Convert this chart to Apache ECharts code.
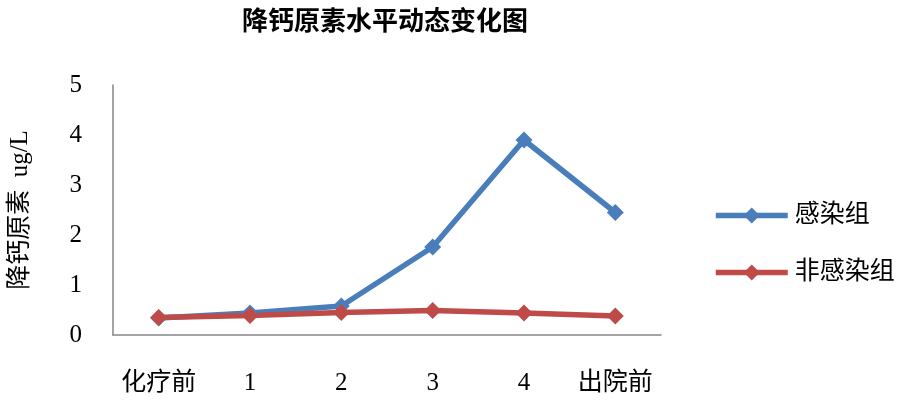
<!DOCTYPE html>
<html>
<head>
<meta charset="utf-8">
<script src="https://cdn.jsdelivr.net/npm/echarts@6/dist/echarts.min.js"></script>
<style>
  html, body { margin: 0; padding: 0; background: #fff; }
  #main { width: 906px; height: 404px; }
</style>
</head>
<body>
<div id="main"></div>
<script>
// 降钙原素水平动态变化
var categories = ['化疗前', '1', '2', '3', '4', '出院前'];
var infected = [0.34, 0.44, 0.58, 1.76, 3.9, 2.45];
var nonInfected = [0.35, 0.39, 0.45, 0.49, 0.44, 0.38];
var yTicks = [0, 1, 2, 3, 4, 5];

var textFont = '"Liberation Serif", "Noto Sans CJK SC", serif';
var chart = echarts.init(document.getElementById('main'));

var option = {
  animation: false,
  backgroundColor: '#fff',
  title: {
    text: '降钙原素水平动态变化图',
    left: 380,
    top: 2,
    textAlign: 'center',
    textStyle: {
      fontFamily: '"Noto Sans CJK SC", sans-serif',
      fontWeight: 'bold',
      fontSize: 26,
      color: '#000'
    }
  },
  legend: {
    orient: 'vertical',
    left: 708,
    top: 198,
    itemWidth: 72,
    itemHeight: 20,
    itemGap: 32,
    lineStyle: { width: 5.5 },
    textStyle: { fontFamily: textFont, fontSize: 25, color: '#000', padding: [0, 0, 0, 2] },
    data: ['感染组', '非感染组']
  },
  grid: { left: 113, right: 245, top: 85, bottom: 69 },
  xAxis: {
    type: 'category',
    data: categories,
    boundaryGap: true,
    axisLine: { lineStyle: { color: '#868686', width: 1.5 } },
    axisTick: { show: false },
    axisLabel: { interval: 0, margin: 36, fontFamily: textFont, fontSize: 25, color: '#000' }
  },
  yAxis: {
    type: 'value',
    min: yTicks[0],
    max: yTicks[yTicks.length - 1],
    interval: 1,
    name: '降钙原素  ug/L',
    nameLocation: 'middle',
    nameGap: 80,
    nameTextStyle: { fontFamily: textFont, fontSize: 25, color: '#000' },
    axisLine: { show: true, lineStyle: { color: '#868686', width: 1.5 } },
    axisTick: { show: false },
    splitLine: { show: false },
    axisLabel: { margin: 31, fontFamily: textFont, fontSize: 25, color: '#000' }
  },
  series: [
    {
      name: '感染组',
      type: 'line',
      data: infected,
      symbol: 'diamond',
      symbolSize: 17,
      itemStyle: { color: '#4A7EBB' },
      lineStyle: { width: 5.5, color: '#4A7EBB' }
    },
    {
      name: '非感染组',
      type: 'line',
      data: nonInfected,
      symbol: 'diamond',
      symbolSize: 17,
      itemStyle: { color: '#BE4B48' },
      lineStyle: { width: 5.5, color: '#BE4B48' }
    }
  ]
};

chart.setOption(option);
</script>
</body>
</html>
